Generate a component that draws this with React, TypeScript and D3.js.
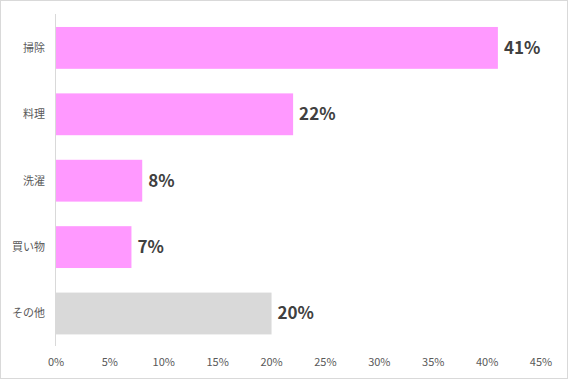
import React from "react";
import * as d3 from "d3";

const categories = ["掃除", "料理", "洗濯", "買い物", "その他"];
const values = [41, 22, 8, 7, 20];
const barColors = ["#FF99FF", "#FF99FF", "#FF99FF", "#FF99FF", "#D9D9D9"];
const xTicks = [0, 5, 10, 15, 20, 25, 30, 35, 40, 45];

const W = 568;
const H = 379;
const margin = { left: 56, right: 27, top: 14, bottom: 33 };

export default function App() {
  const x = d3.scaleLinear().domain([0, 45]).range([margin.left, W - margin.right]);
  const y = d3
    .scaleBand<string>()
    .domain(categories)
    .range([margin.top + 0.7, H - margin.bottom + 0.7])
    .paddingInner(0.37)
    .paddingOuter(0.185);
  const font = "'Noto Sans CJK JP', 'Noto Sans', sans-serif";
  return (
    <svg
      width={W}
      height={H}
      style={{ position: "absolute", left: 0, top: 0, background: "#fff" }}
    >
      <rect x={0.5} y={0.5} width={W - 1} height={H - 1} fill="#fff" stroke="#D9D9D9" />
      {categories.map((c, i) => (
        <g key={c}>
          <rect
            x={x(0)}
            y={y(c)}
            width={x(values[i]) - x(0)}
            height={y.bandwidth()}
            fill={barColors[i]}
          />
          <text
            x={x(values[i]) + 6}
            y={(y(c) as number) + y.bandwidth() / 2}
            dy="0.35em"
            fontSize={17}
            fontWeight="bold"
            fill="#404040"
            fontFamily={font}
          >
            {values[i]}%
          </text>
          <text
            x={margin.left - 11}
            y={(y(c) as number) + y.bandwidth() / 2}
            dy="0.35em"
            textAnchor="end"
            fontSize={11}
            fill="#595959"
            fontFamily={font}
          >
            {c}
          </text>
        </g>
      ))}
      <line
        x1={x(0) - 0.5}
        x2={x(0) - 0.5}
        y1={margin.top}
        y2={H - margin.bottom}
        stroke="#D9D9D9"
      />
      {xTicks.map((t) => (
        <text
          key={t}
          x={x(t)}
          y={362}
          dy="0.35em"
          textAnchor="middle"
          fontSize={11}
          fill="#595959"
          fontFamily={font}
        >
          {t}%
        </text>
      ))}
    </svg>
  );
}
